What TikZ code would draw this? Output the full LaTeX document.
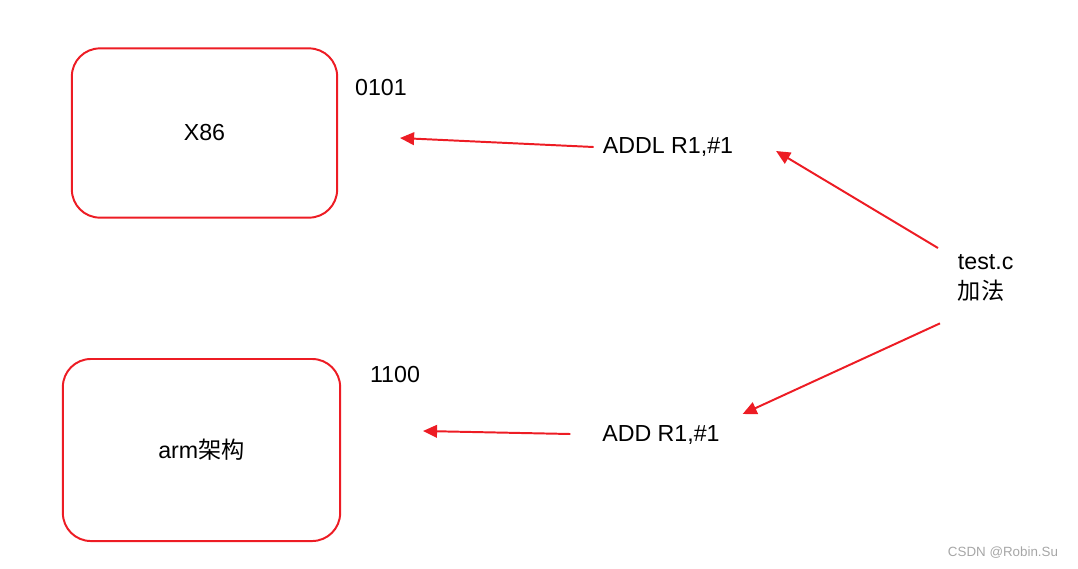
\documentclass[tikz,border=0pt]{standalone}
\usepackage{fontspec}
\setmainfont{Liberation Sans}
\newfontfamily\cjk{Noto Sans CJK SC}
\usepackage{tikz}
\usetikzlibrary{positioning,arrows.meta}
\usepackage{xcolor}
\definecolor{archred}{RGB}{237,28,36}

\tikzset{
  archbox/.style={draw=archred, line width=1.4pt, rounded corners=0.7cm,
    font=\fontsize{16.5}{19}\selectfont},
  asmarrow/.style={-{Triangle[length=10pt,width=9pt]}, draw=archred,
    line width=1.4pt},
  lbl/.style={font=\fontsize{16.5}{19}\selectfont}
}

\begin{document}
\begin{tikzpicture}[x=0.025cm, y=-0.025cm]
  \useasboundingbox (0,0) rectangle (1078,568);
  % target machines
  \node[archbox, minimum width=6.63cm, minimum height=4.23cm] (x86) at (204.5,133) {X86};
  \node[archbox, minimum width=6.93cm, minimum height=4.55cm] (arm) at (201.5,450) {arm{\cjk 架构}};
  \node[lbl] (code0101) at (381,88) {0101};
  \node[lbl] (code1100) at (395,375) {1100};
  % assembly
  \node[lbl] (addl) at (668,147) {ADDL R1,\#1};
  \node[lbl] (add) at (661,435) {ADD R1,\#1};
  \node[lbl, align=left, anchor=north west, font=\fontsize{16.5}{21}\selectfont]
    (src) at (953,250) {test.c\\{\cjk 加法}};
  \coordinate (x86in) at (400,138);
  \coordinate (armin) at (423,431);
  \draw[asmarrow] ([xshift=-3]addl.west) -- (x86in);
  \draw[asmarrow] ([shift={(-27,-1)}]add.west) -- (armin);
  \draw[asmarrow] ([shift={(-15,-2)}]src.north west) -- ([shift={(38,4)}]addl.east);
  \draw[asmarrow] ([shift={(-13,17)}]src.south west) -- ([shift={(18,-21)}]add.east);
  \node[font=\fontsize{9.5}{11}\selectfont, text=gray!70, anchor=east] (mark) at (1063,553)
    {CSDN @Robin.Su};
\end{tikzpicture}
\end{document}
